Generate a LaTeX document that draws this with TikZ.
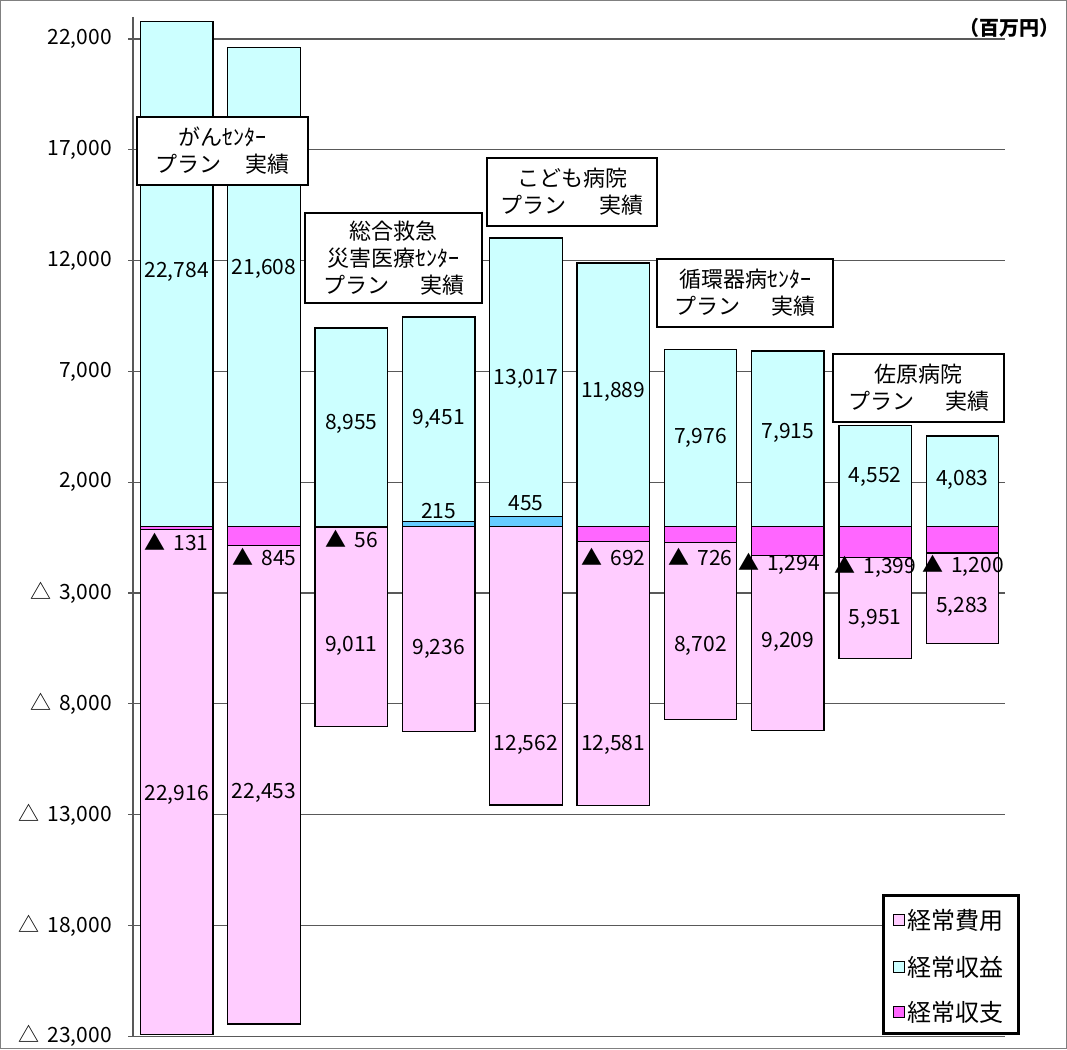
\documentclass[tikz,border=0pt]{standalone}
\usepackage{fontspec}
\newfontfamily\jpfont{Noto Sans CJK JP}
\definecolor{revcol}{HTML}{CCFFFF}
\definecolor{expcol}{HTML}{FFCCFF}
\definecolor{balcol}{HTML}{FF66FF}
\definecolor{surcol}{HTML}{66CCFF}
\definecolor{gridcol}{HTML}{595959}
\newcommand\tri{▲\hspace{8pt}}
\newcommand\minus{△\hspace{8pt}}
\begin{document}
\begin{tikzpicture}[x=1pt,y=-1pt,
  every node/.style={inner sep=0pt, font=\jpfont\fontsize{21}{27}\selectfont},
  bar/.style={draw=black, line width=1.3pt},
  gridline/.style={draw=gridcol, line width=1.1pt},
  tag/.style={draw=black, fill=white, line width=1.3pt, align=center, font=\jpfont\fontsize{22}{27}\selectfont},
  legmark/.style={draw=black, line width=0.8pt, minimum size=11pt},
  legtext/.style={anchor=west, font=\jpfont\fontsize{24}{27}\selectfont}]
\useasboundingbox (0,0) rectangle (1067,1049);
\draw [gray, line width=1pt] (0.5,0.5) rectangle (1066.5,1048.5);
% grid lines and axis
\draw [gridline] (128,39) -- (1005,39);
\draw [gridline] (128,149.8) -- (1005,149.8);
\draw [gridline] (128,260.6) -- (1005,260.6);
\draw [gridline] (128,371.4) -- (1005,371.4);
\draw [gridline] (128,482.2) -- (1005,482.2);
\draw [gridline] (128,593) -- (1005,593);
\draw [gridline] (128,703.8) -- (1005,703.8);
\draw [gridline] (128,814.6) -- (1005,814.6);
\draw [gridline] (128,925.4) -- (1005,925.4);
\draw [gridline] (128,1036.2) -- (1005,1036.2);
\draw [gridline] (133,17) -- (133,1036.2);
\node [anchor=east] (y1) at (112,39) {22,000};
\node [anchor=east] (y2) at (112,149.8) {17,000};
\node [anchor=east] (y3) at (112,260.6) {12,000};
\node [anchor=east] (y4) at (112,371.4) {7,000};
\node [anchor=east] (y5) at (112,482.2) {2,000};
\node [anchor=east] (y6) at (112,593) {\minus 3,000};
\node [anchor=east] (y7) at (112,703.8) {\minus 8,000};
\node [anchor=east] (y8) at (112,814.6) {\minus 13,000};
\node [anchor=east] (y9) at (112,925.4) {\minus 18,000};
\node [anchor=east] (y10) at (112,1036.2) {\minus 23,000};
% bars
\draw [bar, fill=expcol] (140.5,529.4) rectangle (213,1034.3);
\draw [bar, fill=balcol] (140.5,526.5) rectangle (213,529.4);
\draw [bar, fill=revcol] (140.5,21.6) rectangle (213,526.5);
\draw [bar, fill=expcol] (227.8,545.2) rectangle (300.3,1024.1);
\draw [bar, fill=balcol] (227.8,526.5) rectangle (300.3,545.2);
\draw [bar, fill=revcol] (227.8,47.7) rectangle (300.3,526.5);
\draw [bar, fill=expcol] (315.1,527.7) rectangle (387.6,726.2);
\draw [bar, fill=balcol] (315.1,526.5) rectangle (387.6,527.7);
\draw [bar, fill=revcol] (315.1,328.1) rectangle (387.6,526.5);
\draw [bar, fill=expcol] (402.4,526.5) rectangle (474.9,731.2);
\draw [bar, fill=surcol] (402.4,521.7) rectangle (474.9,526.5);
\draw [bar, fill=revcol] (402.4,317.1) rectangle (474.9,521.7);
\draw [bar, fill=expcol] (489.7,526.5) rectangle (562.2,804.9);
\draw [bar, fill=surcol] (489.7,516.4) rectangle (562.2,526.5);
\draw [bar, fill=revcol] (489.7,238) rectangle (562.2,516.4);
\draw [bar, fill=expcol] (577,541.8) rectangle (649.5,805.3);
\draw [bar, fill=balcol] (577,526.5) rectangle (649.5,541.8);
\draw [bar, fill=revcol] (577,263) rectangle (649.5,526.5);
\draw [bar, fill=expcol] (664.3,542.6) rectangle (736.8,719.3);
\draw [bar, fill=balcol] (664.3,526.5) rectangle (736.8,542.6);
\draw [bar, fill=revcol] (664.3,349.8) rectangle (736.8,526.5);
\draw [bar, fill=expcol] (751.6,555.2) rectangle (824.1,730.6);
\draw [bar, fill=balcol] (751.6,526.5) rectangle (824.1,555.2);
\draw [bar, fill=revcol] (751.6,351.1) rectangle (824.1,526.5);
\draw [bar, fill=expcol] (838.9,557.5) rectangle (911.4,658.4);
\draw [bar, fill=balcol] (838.9,526.5) rectangle (911.4,557.5);
\draw [bar, fill=revcol] (838.9,425.6) rectangle (911.4,526.5);
\draw [bar, fill=expcol] (926.2,553.1) rectangle (998.7,643.6);
\draw [bar, fill=balcol] (926.2,526.5) rectangle (998.7,553.1);
\draw [bar, fill=revcol] (926.2,436) rectangle (998.7,526.5);
% values
\node (r1) at (176.7,272) {22,784};
\node (d1) at (176.5,542) {\tri 131};
\node (e1) at (176.7,795) {22,916};
\node (r2) at (264,269) {21,608};
\node (d2) at (264.5,557) {\tri 845};
\node (e2) at (264,793) {22,453};
\node (r3) at (351.3,424) {8,955};
\node (d3) at (352,539) {\tri 56};
\node (e3) at (351.3,646) {9,011};
\node (r4) at (438.6,419) {9,451};
\node (s4) at (438.6,511) {215};
\node (e4) at (438.6,649) {9,236};
\node (r5) at (525.9,379) {13,017};
\node (s5) at (525.9,503) {455};
\node (e5) at (525.9,745) {12,562};
\node (r6) at (613.2,392) {11,889};
\node (d6) at (613.5,557) {\tri 692};
\node (e6) at (613.2,745) {12,581};
\node (r7) at (700.5,438) {7,976};
\node (d7) at (700.5,557) {\tri 726};
\node (e7) at (700.5,646) {8,702};
\node (r8) at (787.8,433) {7,915};
\node (d8) at (779,564) {\tri 1,294};
\node (e8) at (787.8,642) {9,209};
\node (r9) at (875.1,477) {4,552};
\node (d9) at (875.5,567) {\tri 1,399};
\node (e9) at (875.1,619) {5,951};
\node (r10) at (962.4,480) {4,083};
\node (d10) at (963,566) {\tri 1,200};
\node (e10) at (962.4,607) {5,283};
% hospital tags
\node [tag, minimum width=171, minimum height=68] (gan) at (222.5,151) {がんｾﾝﾀｰ\\プラン\hspace{25pt}実績};
\node [tag, minimum width=177, minimum height=90] (sogo) at (393.5,258) {総合救急\\災害医療ｾﾝﾀｰ\\プラン\hspace{31pt}実績};
\node [tag, minimum width=170, minimum height=68] (kodomo) at (572,192) {こども病院\\プラン\hspace{34pt}実績};
\node [tag, minimum width=176, minimum height=68] (junkan) at (745,293) {循環器病ｾﾝﾀｰ\\プラン\hspace{31pt}実績};
\node [tag, minimum width=171, minimum height=68] (sawara) at (918.5,388) {佐原病院\\プラン\hspace{31pt}実績};
\node [anchor=east, font=\jpfont\bfseries\fontsize{20}{24}\selectfont] (unit) at (1060,28) {（百万円）};
% legend
\draw [black, fill=white, line width=3pt] (883,895) rectangle (1018,1033);
\node [legmark, fill=expcol] (k1) at (899,920) {};
\node [legtext] (t1) at (907,920) {経常費用};
\node [legmark, fill=revcol] (k2) at (899,967) {};
\node [legtext] (t2) at (907,967) {経常収益};
\node [legmark, fill=balcol] (k3) at (899,1012) {};
\node [legtext] (t3) at (907,1012) {経常収支};
\end{tikzpicture}
\end{document}
